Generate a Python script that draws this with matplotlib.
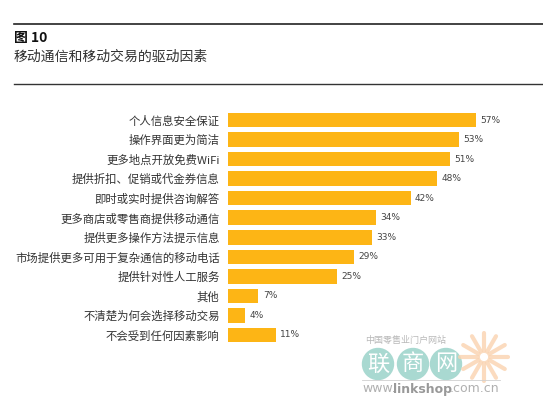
import numpy as np
import matplotlib.pyplot as plt
from matplotlib.lines import Line2D
from matplotlib.patches import Ellipse

plt.rcParams['font.family'] = ['Noto Sans CJK SC', 'DejaVu Sans']

labels = ['个人信息安全保证', '操作界面更为简洁', '更多地点开放免费WiFi',
          '提供折扣、促销或代金券信息', '即时或实时提供咨询解答',
          '更多商店或零售商提供移动通信', '提供更多操作方法提示信息',
          '市场提供更多可用于复杂通信的移动电话', '提供针对性人工服务',
          '其他', '不清楚为何会选择移动交易', '不会受到任何因素影响']
values = [57, 53, 51, 48, 42, 34, 33, 29, 25, 7, 4, 11]

W, H = 543, 399
fig = plt.figure(figsize=(W / 100, H / 100), dpi=100)

# axes placed in pixel coords: x0=228, 4.35 px per percent, rows 19.5px apart
x0 = 228
ppu = 4.35
xmax = 70
top = 110.25
bottom = 344.75
ax = fig.add_axes([x0 / W, 1 - bottom / H, ppu * xmax / W, (bottom - top) / H])

y = np.arange(len(values))
ax.barh(y, values, height=0.74, color='#FDB515', left=0)
ax.set_xlim(0, xmax)
ax.set_ylim(len(values) - 0.5, -0.5)
ax.set_yticks(y)
ax.set_yticklabels(labels, fontsize=8.2, color='#333333')
ax.tick_params(axis='y', length=0, pad=6)
ax.set_xticks([])
for s in ax.spines.values():
    s.set_visible(False)

for yi, v in zip(y, values):
    ax.text(v + 1.0, yi, f'{v}%', va='center', ha='left', fontsize=6.5,
            color='#444444', family=['DejaVu Sans'])

# header rules and titles
fig.add_artist(Line2D([14 / W, 1], [1 - 24 / H] * 2, color='#222222', lw=1.2))
fig.add_artist(Line2D([14 / W, 1], [1 - 84 / H] * 2, color='#333333', lw=1.0))
fig.text(14 / W, 1 - 38 / H, '图 10', fontsize=10, fontweight='bold',
         color='#111111', va='center', ha='left')
fig.text(14 / W, 1 - 57 / H, '移动通信和移动交易的驱动因素', fontsize=10,
         color='#333333', va='center', ha='left')

# watermark
cx, cy = 484, 357
for a in np.linspace(0, 2 * np.pi, 13)[:-1]:
    fig.add_artist(Line2D([(cx + 6 * np.cos(a)) / W, (cx + 24 * np.cos(a)) / W],
                          [1 - (cy + 6 * np.sin(a)) / H, 1 - (cy + 24 * np.sin(a)) / H],
                          color='#FAD3B0', lw=3, alpha=0.8, solid_capstyle='round'))
fig.text(365 / W, 1 - 340 / H, '中国零售业门户网站', fontsize=6.5, color='#B8B8B8',
         va='center', ha='left')
for xc, ch in zip([378, 413, 446], '联商网'):
    fig.add_artist(Ellipse((xc / W, 1 - 364 / H), 31 / W, 31 / H,
                           color='#A9D9D1'))
    fig.text(xc / W, 1 - 364 / H, ch, fontsize=16, color='white',
             va='center', ha='center')
fig.add_artist(Line2D([362 / W, 500 / W], [1 - 380 / H] * 2, color='#D0D0D0', lw=0.6))
fig.text(362 / W, 1 - 389 / H, 'www.', fontsize=9, color='#B0B0B0',
         va='center', ha='left', family=['DejaVu Sans'])
fig.text(393 / W, 1 - 389 / H, 'linkshop', fontsize=9, color='#999999',
         va='center', ha='left', family=['DejaVu Sans'], fontweight='bold')
fig.text(450 / W, 1 - 389 / H, '.com.cn', fontsize=9, color='#B0B0B0',
         va='center', ha='left', family=['DejaVu Sans'])

fig.savefig('out.png', dpi=100)
